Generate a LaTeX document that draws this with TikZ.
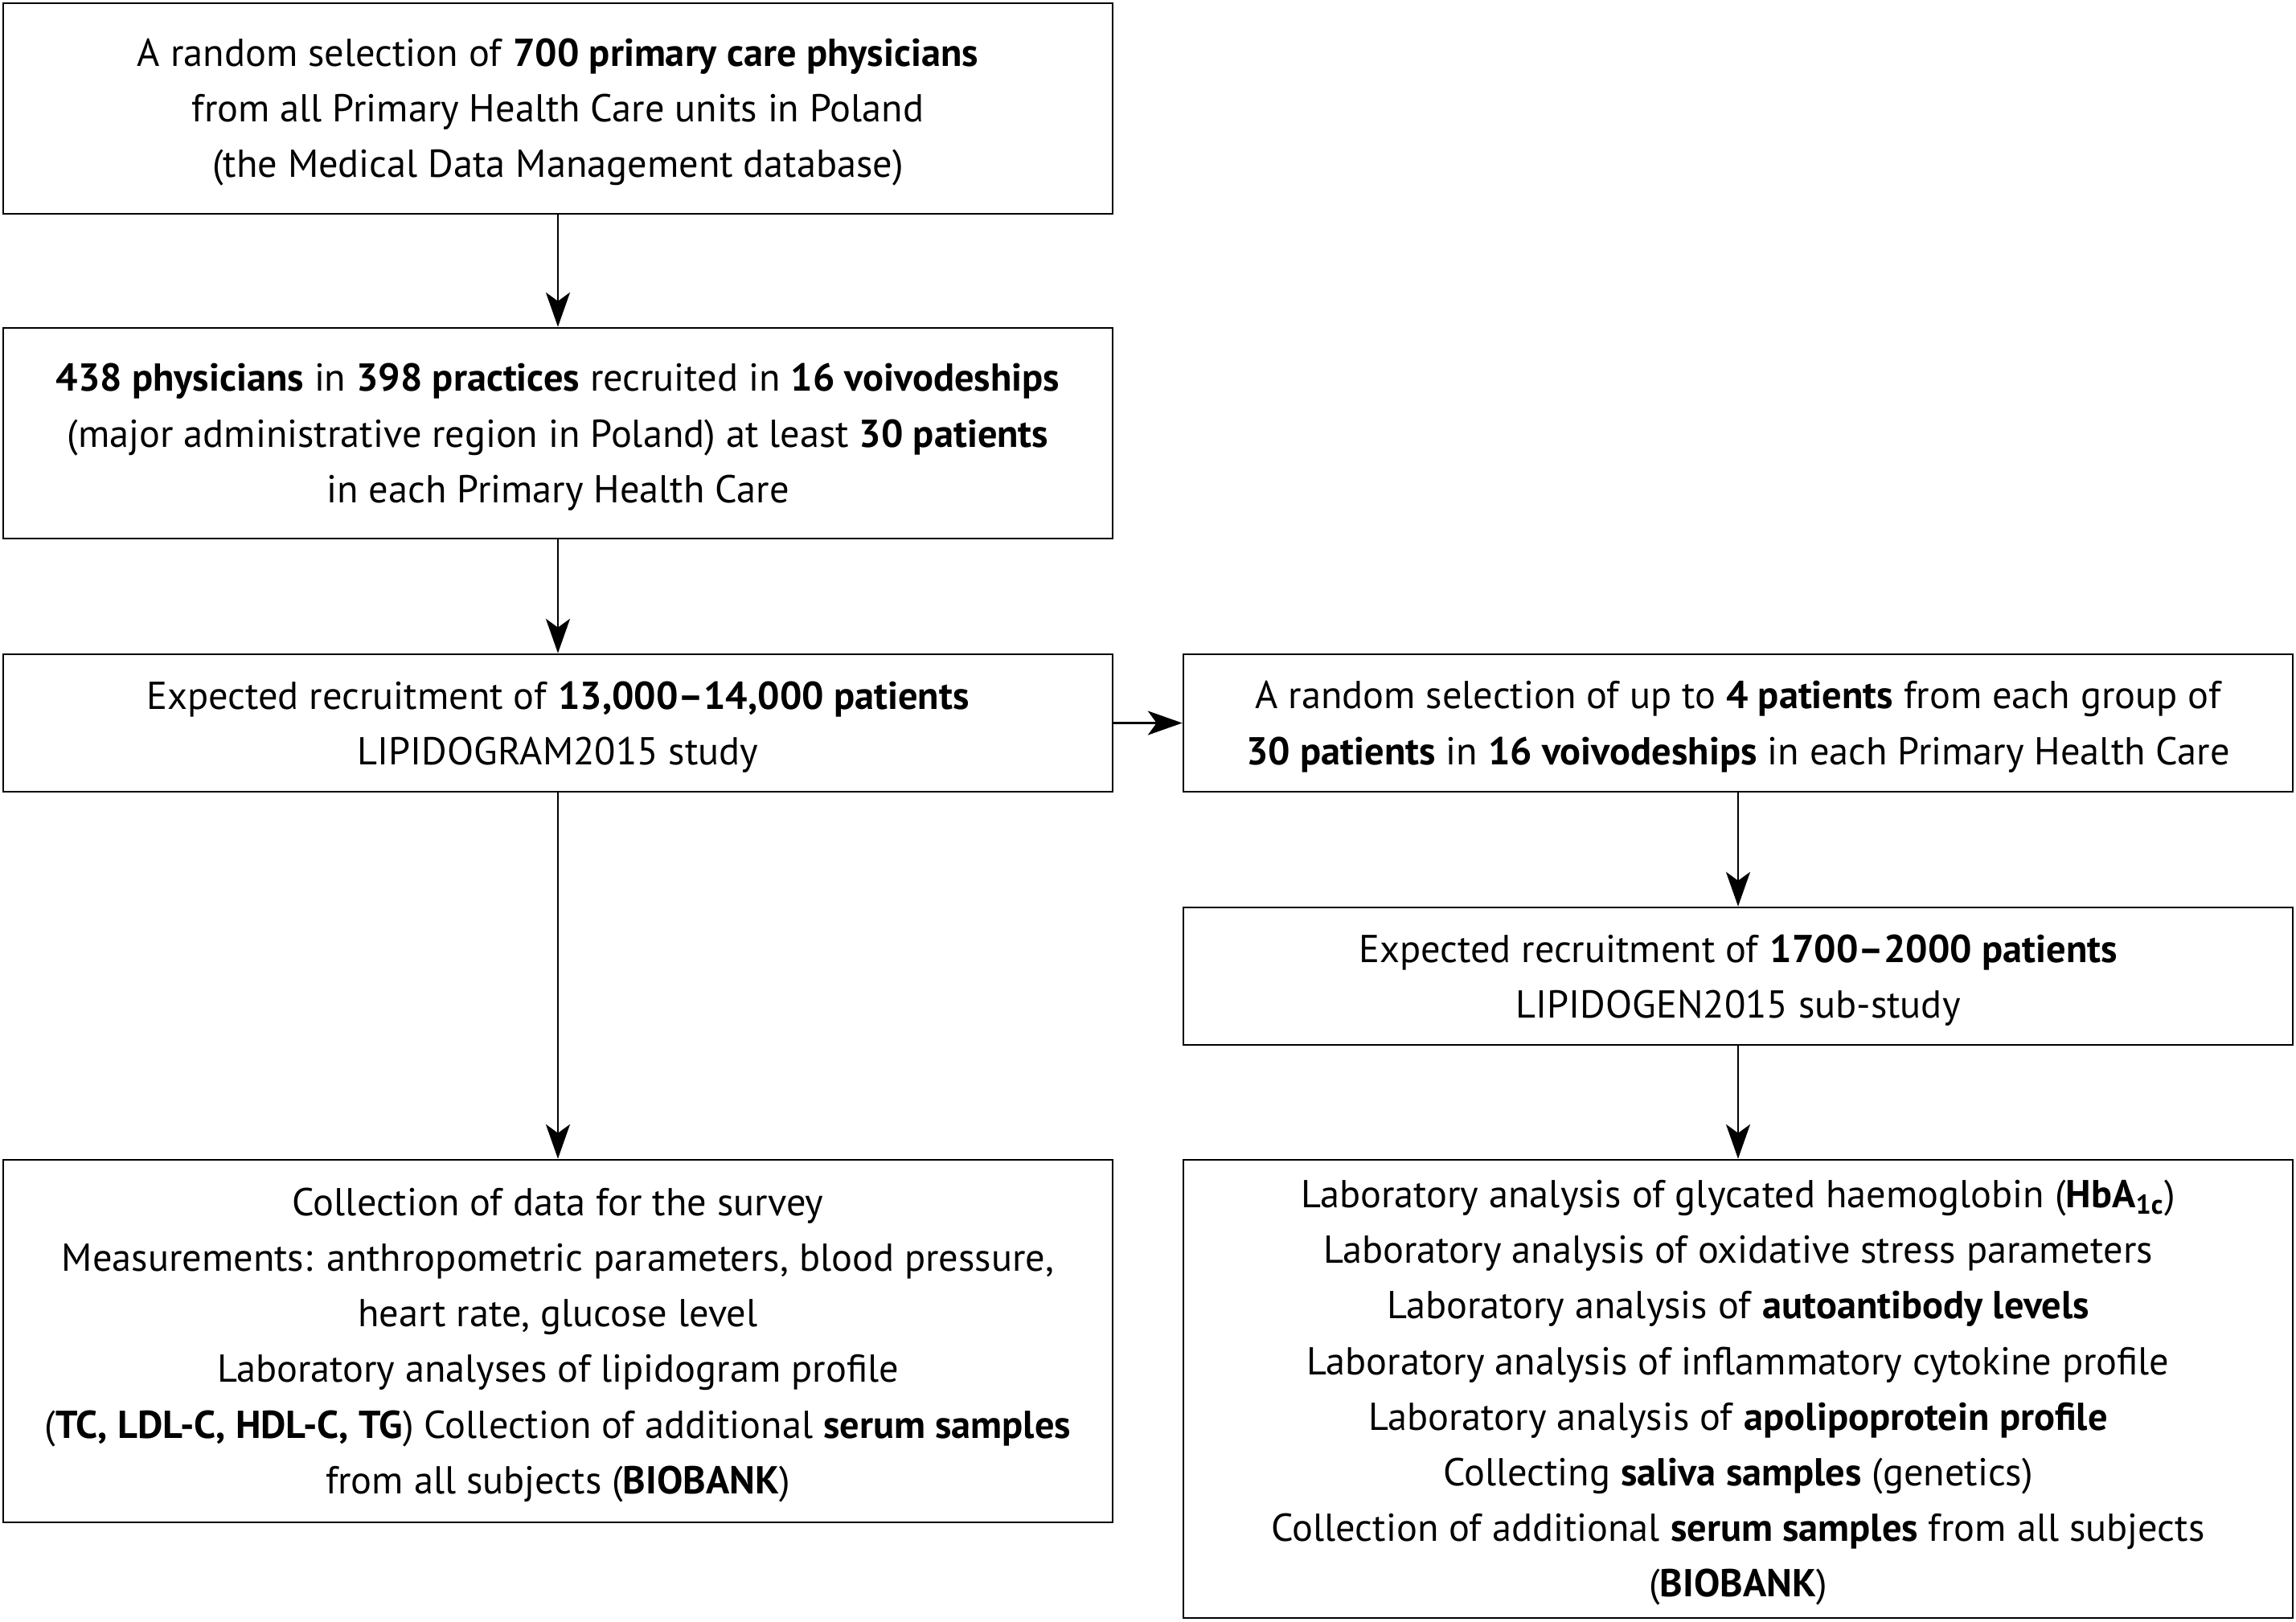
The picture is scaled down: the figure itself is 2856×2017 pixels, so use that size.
\documentclass[tikz,border=0pt]{standalone}
\usepackage{fontspec}
\setmainfont{PT Sans}
\usetikzlibrary{arrows.meta}
\begin{document}
\begin{tikzpicture}[x=0.25pt,y=-0.25pt,
  box/.style={draw=black,line width=0.68pt,inner sep=0pt,minimum width=345pt},
  txt/.style={inner sep=0pt,align=center,yshift=-1.2pt,
    font=\fontsize{12.1pt}{17.3pt}\selectfont},
  arr/.style={line width=0.68pt,-{Stealth[length=10.7pt,width=7.5pt,inset=2.7pt]}}]
\useasboundingbox (0,0) rectangle (2856,2017);
\node[box,minimum height=65.5pt] (b1) at (694,135) {};
\node[box,minimum height=65.5pt] (b2) at (694,539) {};
\node[box,minimum height=42.75pt] (b3) at (694,899.5) {};
\node[box,minimum height=42.75pt] (b4) at (2162,899.5) {};
\node[box,minimum height=42.75pt] (b5) at (2162,1214.5) {};
\node[box,minimum height=112.75pt] (b6) at (694,1668.5) {};
\node[box,minimum height=142.5pt] (b7) at (2162,1728) {};
\node[txt] (t1) at (b1.center) {A random selection of \textbf{700 primary care physicians}\\from all Primary Health Care units in Poland\\(the Medical Data Management database)};
\node[txt] (t2) at (b2.center) {\textbf{438 physicians} in \textbf{398 practices} recruited in \textbf{16 voivodeships}\\(major administrative region in Poland) at least \textbf{30 patients}\\in each Primary Health Care};
\node[txt] (t3) at (b3.center) {Expected recruitment of \textbf{13,000–14,000 patients}\\LIPIDOGRAM2015 study};
\node[txt] (t4) at (b4.center) {A random selection of up to \textbf{4 patients} from each group of\\\textbf{30 patients} in \textbf{16 voivodeships} in each Primary Health Care};
\node[txt] (t5) at (b5.center) {Expected recruitment of \textbf{1700–2000 patients}\\LIPIDOGEN2015 sub-study};
\node[txt] (t6) at (b6.center) {Collection of data for the survey\\Measurements: anthropometric parameters, blood pressure,\\heart rate, glucose level\\Laboratory analyses of lipidogram profile\\(\textbf{TC, LDL-C, HDL-C, TG}) Collection of additional \textbf{serum samples}\\from all subjects (\textbf{BIOBANK})};
\node[txt] (t7) at (b7.center) {Laboratory analysis of glycated haemoglobin (\textbf{HbA\textsubscript{1c}})\\Laboratory analysis of oxidative stress parameters\\Laboratory analysis of \textbf{autoantibody levels}\\Laboratory analysis of inflammatory cytokine profile\\Laboratory analysis of \textbf{apolipoprotein profile}\\Collecting \textbf{saliva samples} (genetics)\\Collection of additional \textbf{serum samples} from all subjects\\(\textbf{BIOBANK})};
\draw[arr] (b1) -- (b2);
\draw[arr] (b2) -- (b3);
\draw[arr] (b3) -- (b6);
\draw[arr] (b3) -- (b4);
\draw[arr] (b4) -- (b5);
\draw[arr] (b5) -- (b7);
\end{tikzpicture}
\end{document}
